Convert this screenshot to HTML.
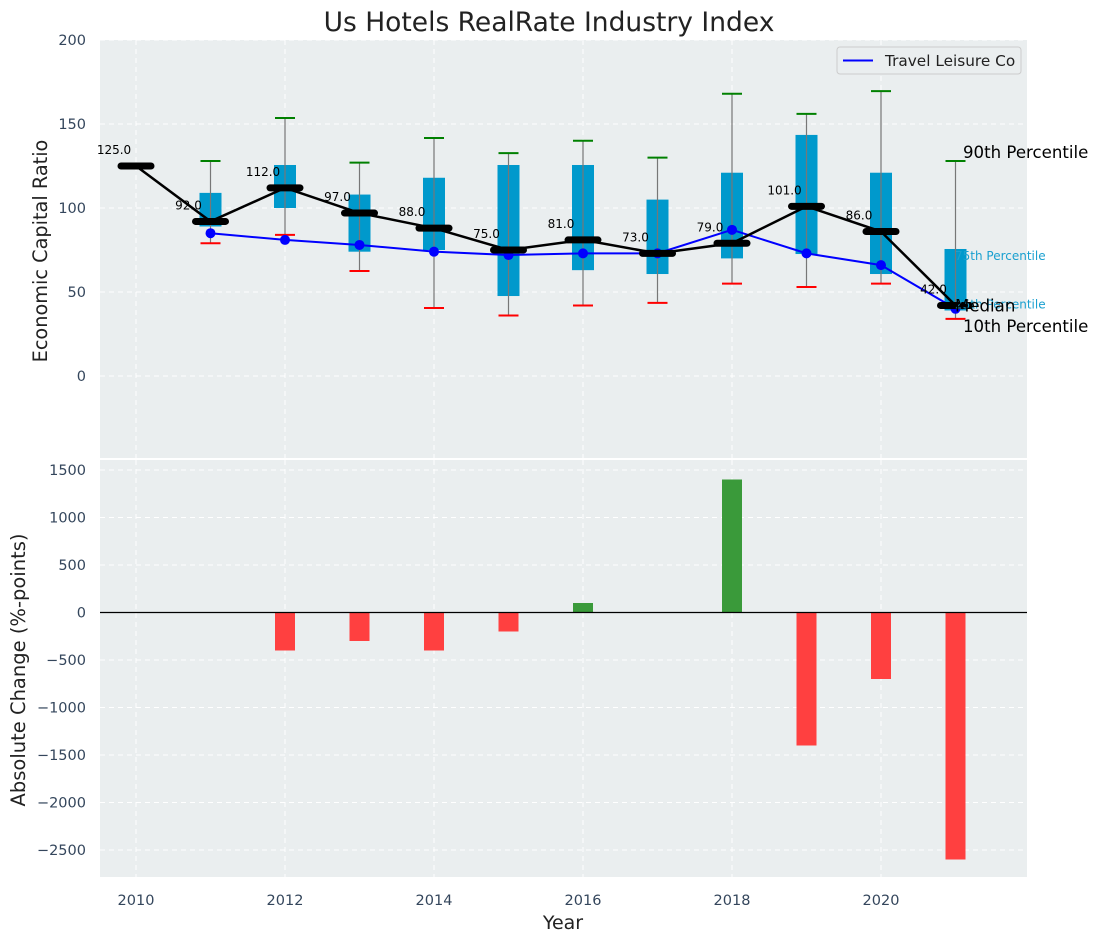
<!DOCTYPE html>
<html><head><meta charset="utf-8">
<style>
html,body{margin:0;padding:0;background:#fff;}
svg{display:block;font-family:"DejaVu Sans","Liberation Sans",sans-serif;}
</style></head>
<body>
<svg id="chart" width="1098" height="942" viewBox="0 0 1098 942"></svg>
<script>
const years = [2010,2011,2012,2013,2014,2015,2016,2017,2018,2019,2020,2021];
const medians = [125,92,112,97,88,75,81,73,79,101,86,42];
const boxYears = [2011,2012,2013,2014,2015,2016,2017,2018,2019,2020,2021];
const q75 = [109,125.6,108,118,125.6,125.6,105,121,143.5,121,75.6];
const q25 = [89,100,74,75,47.6,63,60.7,70,72.6,60.7,39];
const p90 = [128,153.6,127,141.7,132.7,140,130,168,156,169.6,128];
const p10 = [79,84,62.5,40.5,36,42,43.5,55,53,55,34];
const compYears = [2011,2012,2013,2014,2015,2016,2017,2018,2019,2020,2021];
const compVals = [85,81,78,74,72,73,73,87,73,66,40];
const changeYears = [2012,2013,2014,2015,2016,2018,2019,2020,2021];
const changeVals = [-400,-300,-400,-200,100,1400,-1400,-700,-2600];
const topTicks = [0,50,100,150,200];
const botTicks = [-2500,-2000,-1500,-1000,-500,0,500,1000,1500];
const xTicks = [2010,2012,2014,2016,2018,2020];

const NS='http://www.w3.org/2000/svg';
const svg=document.getElementById('chart');
function mk(tag,attrs,parent){const e=document.createElementNS(NS,tag);for(const k in attrs)e.setAttribute(k,attrs[k]);(parent||svg).appendChild(e);return e;}
const L=100,R=1027,T1=40,B1=458,T2=460,B2=877;
const X=v=>136+(v-2010)*74.5;
const Y1=v=>376-v*84/50;
const Y2=v=>612.5-v*0.095;

let e=mk('rect',{x:L,y:T1,width:R-L,height:B1-T1,fill:'#eaeeef'});


e=mk('rect',{x:L,y:T2,width:R-L,height:B2-T2,fill:'#eaeeef'});



xTicks.forEach(t=>{
  mk('line',{x1:X(t),x2:X(t),y1:T1,y2:B1,stroke:'#fff','stroke-dasharray':'5,4','stroke-width':1});
  mk('line',{x1:X(t),x2:X(t),y1:T2,y2:B2,stroke:'#fff','stroke-dasharray':'5,4','stroke-width':1});
});
topTicks.forEach(t=>{
  mk('line',{x1:L,x2:R,y1:Y1(t),y2:Y1(t),stroke:'#fff','stroke-dasharray':'5,4'});
  const tx=mk('text',{x:86,y:Y1(t)+5,'text-anchor':'end','font-size':14.5,fill:'#34465c'});
  tx.textContent=t;
  
  
});
botTicks.forEach(t=>{
  mk('line',{x1:L,x2:R,y1:Y2(t),y2:Y2(t),stroke:'#fff','stroke-dasharray':'5,4'});
  const tx=mk('text',{x:86,y:Y2(t)+5,'text-anchor':'end','font-size':14.5,fill:'#34465c'});
  tx.textContent=String(t).replace('-','\u2212');
  
  
});
xTicks.forEach(t=>{
  const tx=mk('text',{x:X(t),y:905,'text-anchor':'middle','font-size':14.5,fill:'#34465c'});
  tx.textContent=t;
  
  
});

boxYears.forEach((yr,i)=>{
  const x=X(yr);
  const b=mk('rect',{x:x-11,y:Y1(q75[i]),width:22,height:Y1(q25[i])-Y1(q75[i]),fill:'#0099cc'});
  
  
  mk('line',{x1:x,x2:x,y1:Y1(p90[i]),y2:Y1(p10[i]),stroke:'#777','stroke-width':1.2});
  mk('line',{x1:x-10,x2:x+10,y1:Y1(p90[i]),y2:Y1(p90[i]),stroke:'green','stroke-width':2});
  mk('line',{x1:x-10,x2:x+10,y1:Y1(p10[i]),y2:Y1(p10[i]),stroke:'red','stroke-width':2});
});

const cp=compYears.map((y,i)=>X(y)+','+Y1(compVals[i])).join(' ');
e=mk('polyline',{points:cp,fill:'none',stroke:'blue','stroke-width':2});


compYears.forEach((y,i)=>{
  const c=mk('circle',{cx:X(y),cy:Y1(compVals[i]),r:5,fill:'blue'});
  
  
});

const mp=years.map((y,i)=>X(y)+','+Y1(medians[i])).join(' ');
e=mk('polyline',{points:mp,fill:'none',stroke:'#000','stroke-width':2.5});


years.forEach((y,i)=>{
  const m=mk('line',{x1:X(y)-15,x2:X(y)+15,y1:Y1(medians[i]),y2:Y1(medians[i]),stroke:'#000','stroke-width':7,'stroke-linecap':'round'});
  
  
  const t=mk('text',{x:X(y)-22,y:Y1(medians[i])-12,'text-anchor':'middle','font-size':12,fill:'#000'});
  t.textContent=medians[i].toFixed(1);
  
  
});

const last=years.length-1, lb=boxYears.length-1;
function ann(txt,y,size,color,name,x){const t=mk('text',{x:x,y:y,'font-size':size,fill:color});t.textContent=txt;}
ann('75th Percentile',Y1(q75[lb])+11,12,'#1aa0d0','q75-annotation',955);
ann('25th Percentile',Y1(q25[lb])-2,12,'#1aa0d0','q25-annotation',955);
ann('90th Percentile',Y1(p90[lb])-3,16.6,'#000','p90-annotation',963);
ann('Median',Y1(medians[last])+6,16.6,'#000','median-annotation',955);
ann('10th Percentile',Y1(p10[lb])+13,16.6,'#000','p10-annotation',963);

const lg=mk('g',{});


mk('rect',{x:837,y:47,width:184,height:27,rx:3,fill:'#eaeeef',stroke:'#ccc'},lg);
mk('line',{x1:843,x2:873,y1:60.5,y2:60.5,stroke:'blue','stroke-width':2},lg);
const lt=mk('text',{x:885,y:66,'font-size':15.3,fill:'#222'},lg);
lt.textContent='Travel Leisure Co';

changeYears.forEach((y,i)=>{
  const v=changeVals[i];
  const r=mk('rect',{x:X(y)-10,y:Math.min(Y2(v),Y2(0)),width:20,height:Math.abs(Y2(v)-Y2(0)),fill:v>=0?'#3a9a3a':'#ff4040'});
  
  
});
mk('line',{x1:L,x2:R,y1:Y2(0),y2:Y2(0),stroke:'#000','stroke-width':1.2});

let t=mk('text',{x:549,y:31,'text-anchor':'middle','font-size':26.5,fill:'#222'});
t.textContent='Us Hotels RealRate Industry Index';


t=mk('text',{x:0,y:0,'text-anchor':'middle','font-size':19.3,fill:'#222',transform:'translate(47,251) rotate(-90)'});
t.textContent='Economic Capital Ratio';


t=mk('text',{x:0,y:0,'text-anchor':'middle','font-size':19.5,fill:'#222',transform:'translate(25,670) rotate(-90)'});
t.textContent='Absolute Change (%-points)';


t=mk('text',{x:563,y:929,'text-anchor':'middle','font-size':19,fill:'#222'});
t.textContent='Year';


</script>
</body></html>
